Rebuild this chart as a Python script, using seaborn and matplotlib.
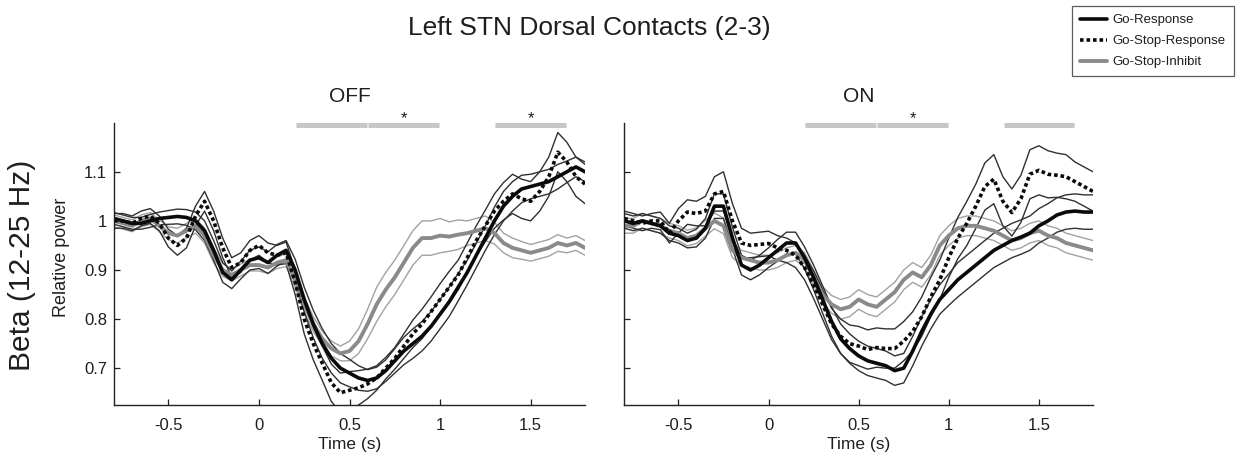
import numpy as np
import pandas as pd
import matplotlib
matplotlib.use("Agg")
import matplotlib.pyplot as plt
from matplotlib.lines import Line2D
import seaborn as sns

# ---- data: relative beta power (12-25 Hz), 50 ms sampling ----
time_s = np.linspace(-0.8, 1.8, 53)

conditions = ["Go-Response", "Go-Stop-Response", "Go-Stop-Inhibit"]

# OFF medication: condition means and half-widths of the confidence band
off_go = [1.005, 1.000, 0.995, 0.995, 1.000, 1.005, 1.007, 1.009, 1.007, 1.000,
          0.980, 0.940, 0.895, 0.880, 0.900, 0.920, 0.925, 0.915, 0.930, 0.940,
          0.900, 0.840, 0.790, 0.750, 0.720, 0.700, 0.690, 0.680, 0.675, 0.680,
          0.695, 0.715, 0.735, 0.750, 0.765, 0.785, 0.810, 0.835, 0.865, 0.895,
          0.930, 0.965, 1.000, 1.030, 1.050, 1.065, 1.070, 1.075, 1.080, 1.090,
          1.100, 1.110, 1.100]
off_go_hw = [0.012, 0.012, 0.012, 0.012, 0.013, 0.013, 0.014, 0.015, 0.016, 0.018,
             0.020, 0.020, 0.020, 0.018, 0.018, 0.020, 0.022, 0.022, 0.022, 0.020,
             0.022, 0.025, 0.028, 0.030, 0.030, 0.030, 0.028, 0.025, 0.022, 0.022,
             0.022, 0.025, 0.028, 0.030, 0.030, 0.030, 0.030, 0.030, 0.028, 0.025,
             0.025, 0.025, 0.028, 0.030, 0.030, 0.028, 0.025, 0.025, 0.025, 0.025,
             0.022, 0.020, 0.020]

off_stop = [1.000, 1.000, 0.995, 1.005, 1.010, 0.995, 0.965, 0.950, 0.965, 1.010,
            1.040, 1.000, 0.945, 0.905, 0.915, 0.940, 0.950, 0.935, 0.930, 0.935,
            0.875, 0.800, 0.750, 0.710, 0.670, 0.650, 0.655, 0.660, 0.668, 0.680,
            0.700, 0.720, 0.745, 0.770, 0.790, 0.815, 0.840, 0.865, 0.890, 0.925,
            0.960, 0.990, 1.020, 1.040, 1.055, 1.045, 1.040, 1.060, 1.090, 1.140,
            1.120, 1.090, 1.075]
off_stop_hw = [0.015, 0.015, 0.015, 0.015, 0.015, 0.015, 0.018, 0.020, 0.020, 0.020,
               0.020, 0.020, 0.020, 0.020, 0.020, 0.020, 0.020, 0.020, 0.020, 0.022,
               0.025, 0.030, 0.033, 0.035, 0.038, 0.040, 0.038, 0.035, 0.030, 0.025,
               0.022, 0.022, 0.025, 0.028, 0.030, 0.030, 0.032, 0.032, 0.030, 0.030,
               0.030, 0.032, 0.035, 0.038, 0.040, 0.040, 0.040, 0.040, 0.040, 0.040,
               0.040, 0.040, 0.040]

off_inh = [1.000, 0.995, 0.990, 1.000, 1.005, 0.990, 0.975, 0.970, 0.980, 0.990,
           0.970, 0.930, 0.900, 0.890, 0.900, 0.910, 0.910, 0.905, 0.915, 0.920,
           0.880, 0.830, 0.790, 0.760, 0.740, 0.730, 0.735, 0.755, 0.790, 0.830,
           0.860, 0.885, 0.915, 0.945, 0.965, 0.965, 0.970, 0.968, 0.972, 0.975,
           0.980, 0.985, 0.975, 0.955, 0.945, 0.940, 0.935, 0.940, 0.945, 0.955,
           0.950, 0.955, 0.945]
off_inh_hw = [0.012, 0.012, 0.012, 0.012, 0.012, 0.012, 0.013, 0.015, 0.015, 0.015,
              0.015, 0.015, 0.013, 0.012, 0.012, 0.012, 0.012, 0.012, 0.012, 0.013,
              0.015, 0.015, 0.015, 0.015, 0.015, 0.015, 0.020, 0.025, 0.030, 0.035,
              0.035, 0.035, 0.035, 0.035, 0.035, 0.035, 0.035, 0.030, 0.030, 0.025,
              0.025, 0.025, 0.022, 0.020, 0.020, 0.018, 0.017, 0.017, 0.017, 0.017,
              0.015, 0.015, 0.015]

# ON medication
on_go = [1.000, 0.995, 1.000, 0.995, 0.990, 0.975, 0.970, 0.960, 0.965, 0.985,
         1.030, 1.030, 0.965, 0.910, 0.900, 0.910, 0.925, 0.940, 0.955, 0.955,
         0.925, 0.885, 0.840, 0.795, 0.760, 0.740, 0.725, 0.715, 0.710, 0.705,
         0.695, 0.700, 0.735, 0.775, 0.810, 0.840, 0.860, 0.880, 0.895, 0.910,
         0.925, 0.940, 0.950, 0.960, 0.967, 0.975, 0.990, 1.000, 1.012, 1.018,
         1.020, 1.018, 1.018]
on_go_hw = [0.015, 0.015, 0.015, 0.015, 0.015, 0.015, 0.015, 0.015, 0.018, 0.020,
            0.025, 0.025, 0.022, 0.020, 0.020, 0.020, 0.020, 0.022, 0.022, 0.022,
            0.022, 0.025, 0.028, 0.030, 0.030, 0.030, 0.030, 0.030, 0.030, 0.030,
            0.030, 0.030, 0.030, 0.030, 0.030, 0.030, 0.032, 0.035, 0.035, 0.035,
            0.035, 0.035, 0.035, 0.035, 0.035, 0.035, 0.035, 0.035, 0.035, 0.035,
            0.035, 0.035, 0.035]

on_stop = [1.005, 1.000, 0.995, 1.000, 1.000, 0.975, 1.000, 1.018, 1.015, 1.020,
           1.055, 1.060, 1.000, 0.955, 0.950, 0.952, 0.954, 0.945, 0.940, 0.930,
           0.905, 0.870, 0.830, 0.790, 0.765, 0.750, 0.745, 0.738, 0.742, 0.740,
           0.740, 0.755, 0.775, 0.805, 0.845, 0.880, 0.925, 0.965, 0.995, 1.030,
           1.070, 1.085, 1.040, 1.017, 1.045, 1.095, 1.103, 1.095, 1.093, 1.090,
           1.080, 1.070, 1.060]
on_stop_hw = [0.015, 0.015, 0.015, 0.015, 0.018, 0.020, 0.025, 0.025, 0.025, 0.030,
              0.035, 0.040, 0.035, 0.030, 0.025, 0.025, 0.025, 0.025, 0.025, 0.025,
              0.025, 0.028, 0.030, 0.032, 0.035, 0.038, 0.040, 0.040, 0.040, 0.040,
              0.040, 0.040, 0.040, 0.040, 0.040, 0.040, 0.040, 0.042, 0.045, 0.045,
              0.048, 0.050, 0.050, 0.048, 0.048, 0.050, 0.050, 0.048, 0.045, 0.045,
              0.040, 0.040, 0.040]

on_inh = [0.990, 0.990, 1.000, 0.995, 0.990, 0.980, 0.975, 0.965, 0.970, 0.985,
          1.000, 0.990, 0.940, 0.925, 0.920, 0.915, 0.915, 0.920, 0.930, 0.935,
          0.920, 0.885, 0.850, 0.830, 0.820, 0.825, 0.840, 0.830, 0.825, 0.840,
          0.855, 0.880, 0.895, 0.885, 0.910, 0.950, 0.970, 0.985, 0.990, 0.990,
          0.985, 0.980, 0.970, 0.960, 0.965, 0.975, 0.980, 0.970, 0.965, 0.955,
          0.950, 0.945, 0.940]
on_inh_hw = [0.015, 0.015, 0.015, 0.015, 0.015, 0.015, 0.015, 0.016, 0.016, 0.016,
             0.016, 0.016, 0.015, 0.015, 0.015, 0.015, 0.015, 0.015, 0.015, 0.015,
             0.015, 0.015, 0.016, 0.018, 0.020, 0.020, 0.020, 0.020, 0.020, 0.020,
             0.020, 0.020, 0.020, 0.020, 0.020, 0.020, 0.020, 0.020, 0.020, 0.020,
             0.020, 0.020, 0.020, 0.020, 0.020, 0.020, 0.020, 0.020, 0.020, 0.020,
             0.020, 0.020, 0.020]

# significant time windows (s) and asterisk positions
sig_windows_off = [(0.2, 0.6), (0.6, 1.0), (1.3, 1.7)]
sig_stars_off = [0.8, 1.5]
sig_windows_on = [(0.2, 0.6), (0.6, 1.0), (1.3, 1.7)]
sig_stars_on = [0.8]

x_ticks = [-0.5, 0, 0.5, 1, 1.5]
x_tick_labels = ["-0.5", "0", "0.5", "1", "1.5"]
y_ticks = [0.7, 0.8, 0.9, 1.0, 1.1]
y_tick_labels = ["0.7", "0.8", "0.9", "1", "1.1"]


def long_table(state, series):
    rows = []
    for cond, (mean, hw) in zip(conditions, series):
        mean = np.asarray(mean)
        hw = np.asarray(hw)
        for part, vals in (("lower", mean - hw), ("upper", mean + hw), ("mean", mean)):
            rows.append(pd.DataFrame({"time": time_s, "power": vals,
                                      "condition": cond, "part": part,
                                      "state": state}))
    return pd.concat(rows, ignore_index=True)


df = pd.concat([
    long_table("OFF", [(off_go, off_go_hw), (off_stop, off_stop_hw), (off_inh, off_inh_hw)]),
    long_table("ON", [(on_go, on_go_hw), (on_stop, on_stop_hw), (on_inh, on_inh_hw)]),
], ignore_index=True)

# ---- styling ----
sns.set_style("ticks")
plt.rcParams["font.family"] = ["Liberation Sans", "DejaVu Sans"]
text_col = "#1e1e1e"

mean_style = {
    "Go-Response": dict(color="#0a0a0a", lw=2.6, ls="-"),
    "Go-Stop-Response": dict(color="#0a0a0a", lw=2.6, ls=(0, (1, 0.8))),
    "Go-Stop-Inhibit": dict(color="#8a8a8a", lw=2.8, ls="-"),
}
band_col = {"Go-Response": "#303030", "Go-Stop-Response": "#303030",
            "Go-Stop-Inhibit": "#a2a2a2"}

W, H = 1238, 462
fig = plt.figure(figsize=(W / 100, H / 100), dpi=100)
ax_off = fig.add_axes([114 / W, 57 / H, 471 / W, 282.3 / H])
ax_on = fig.add_axes([624.3 / W, 57 / H, 468.7 / W, 282.3 / H])

draw_order = ["Go-Stop-Inhibit", "Go-Stop-Response", "Go-Response"]

for ax, state, windows, stars in ((ax_off, "OFF", sig_windows_off, sig_stars_off),
                                  (ax_on, "ON", sig_windows_on, sig_stars_on)):
    sub = df[df["state"] == state]
    # confidence bounds (thin lines)
    for cond in draw_order:
        for part in ("lower", "upper"):
            d = sub[(sub["condition"] == cond) & (sub["part"] == part)]
            sns.lineplot(data=d, x="time", y="power", ax=ax, color=band_col[cond],
                         lw=1.0, estimator=None, legend=False)
    # condition means (thick lines)
    for cond in draw_order:
        d = sub[(sub["condition"] == cond) & (sub["part"] == "mean")]
        st = mean_style[cond]
        sns.lineplot(data=d, x="time", y="power", ax=ax, color=st["color"],
                     lw=st["lw"], linestyle=st["ls"], estimator=None, legend=False)

    ax.set_xlim(-0.8, 1.8)
    ax.set_ylim(0.625, 1.2)
    ax.set_xticks(x_ticks)
    ax.set_xticklabels(x_tick_labels)
    ax.set_yticks(y_ticks)
    ax.set_yticklabels(y_tick_labels)
    ax.tick_params(direction="in", length=4, width=0.9, labelsize=12,
                   colors=text_col, pad=5)
    ax.tick_params(axis="x", pad=9)
    sns.despine(ax=ax)
    for sp in ("left", "bottom"):
        ax.spines[sp].set_color("#222222")
        ax.spines[sp].set_linewidth(1.0)
    ax.set_xlabel("Time (s)", fontsize=12.5, color=text_col, labelpad=3)
    ax.set_ylabel("")
    ax.set_title(state, fontsize=15, color=text_col, pad=15)

    # significance windows above the traces
    for a, b in windows:
        ax.plot([a + 0.004, b - 0.004], [1.196, 1.196], color="#c6c6c6", lw=3.6,
                solid_capstyle="butt", clip_on=False)
    for s in stars:
        ax.text(s, 1.193, "*", ha="center", va="bottom", fontsize=12,
                color=text_col, clip_on=False)

ax_on.tick_params(labelleft=False)

fig.text(589 / W, 1 - 28 / H, "Left STN Dorsal Contacts (2-3)", ha="center",
         va="center", fontsize=19, color=text_col)
fig.text(22 / W, 1 - 265 / H, "Beta (12-25 Hz)", rotation=90, ha="center",
         va="center", fontsize=21.5, color=text_col)
fig.text(62 / W, 1 - 257 / H, "Relative power", rotation=90, ha="center",
         va="center", fontsize=13, color=text_col)

handles = [Line2D([], [], color=mean_style[c]["color"], lw=mean_style[c]["lw"],
                  linestyle=mean_style[c]["ls"]) for c in conditions]
leg = fig.legend(handles, conditions, loc="upper right",
                 bbox_to_anchor=(1234 / W, 1 - 6 / H), fontsize=9.5,
                 frameon=True, fancybox=False, edgecolor="#333333",
                 handlelength=2.0, handletextpad=0.45, borderpad=0.62,
                 labelspacing=0.66, borderaxespad=0)
leg.get_frame().set_linewidth(0.9)
for t in leg.get_texts():
    t.set_color(text_col)

fig.savefig("out.png", dpi=100, facecolor="white")
